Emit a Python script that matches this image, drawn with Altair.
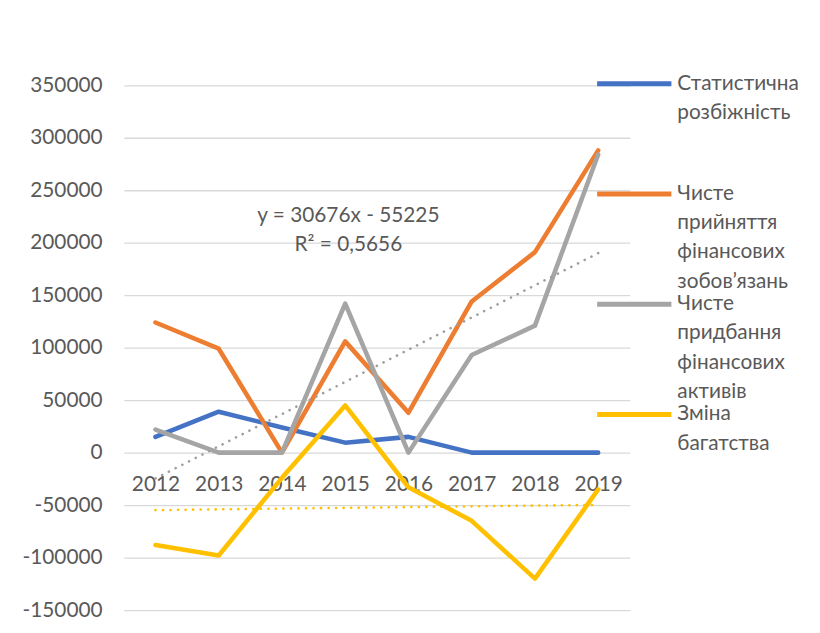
import json
import altair as alt
import pandas as pd

# ---- data ----
years = [2012, 2013, 2014, 2015, 2016, 2017, 2018, 2019]
series_names = [
    "Статистична розбіжність",
    "Чисте прийняття фінансових зобов’язань",
    "Чисте придбання фінансових активів",
    "Зміна багатства",
]
legend_lines = [
    ["Статистична", "розбіжність", "", ""],
    ["Чисте", "прийняття", "фінансових", "зобов’язань"],
    ["Чисте", "придбання", "фінансових", "активів"],
    ["Зміна", "багатства", "", ""],
]
stat_discrepancy = [15000, 39000, 24000, 9500, 15000, 0, 0, 0]
net_liabilities = [124000, 99000, 0, 106000, 38000, 144000, 191000, 288000]
net_assets = [22000, 0, 0, 142000, 0, 93000, 121000, 284000]
wealth_change = [-88000, -98000, -24000, 45000, -33000, -65000, -120000, -35000]
colors = ["#4472C4", "#ED7D31", "#A5A5A5", "#FFC000"]

y_ticks = [-150000, -100000, -50000, 0, 50000, 100000, 150000, 200000, 250000, 300000, 350000]
trend_label = "y = 30676x - 55225\nR² = 0,5656"
trend_label_pos = {"year": 2015.05, "value": 225500}

rows = []
for name, vals in zip(series_names, [stat_discrepancy, net_liabilities, net_assets, wealth_change]):
    for yr, v in zip(years, vals):
        rows.append({"year": yr, "value": v, "series": name})
df = pd.DataFrame(rows)

W, H = 511, 530
y_min, y_max = y_ticks[0], y_ticks[-1]
zero_offset = -H * (0 - y_min) / (y_max - y_min)

x_scale = alt.Scale(domain=[years[0] - 0.5, years[-1] + 0.5], nice=False, zero=False)
y_scale = alt.Scale(domain=[y_min, y_max], nice=False, zero=False)

x_axis = alt.Axis(
    values=years, labelExpr="'' + datum.value", title=None, grid=False, domain=False,
    ticks=False, tickSize=0, labelPadding=21, offset=zero_offset,
    labelFontSize=21, labelColor="#595959", labelFont="Lato",
)
y_axis = alt.Axis(
    values=y_ticks, labelExpr="'' + datum.value", title=None, domain=False, ticks=False,
    tickSize=0, labelPadding=22, labelFontSize=21, labelColor="#595959", labelFont="Lato",
    grid=True, gridColor="#D9D9D9", gridWidth=1.3,
)

expr = ""
for name, ls in zip(series_names, legend_lines):
    expr += f"datum.label == {json.dumps(name)} ? {json.dumps(ls, ensure_ascii=False)} : "
expr += "datum.label"

# legend key: a flat stroke drawn as a custom path (scaled by sqrt(size)/2)
sym_path = "M-7,0H7"
sym_size = (75 / 7) ** 2
legend = alt.Legend(
    orient="none", legendX=505, legendY=-12, title=None, direction="vertical",
    symbolType=sym_path, symbolSize=sym_size, symbolStrokeWidth=5,
    labelFontSize=21, labelFont="Lato", labelColor="#595959",
    labelLimit=400, labelExpr=expr, rowPadding=1.3, padding=0, labelOffset=33,
)
color = alt.Color("series:N", scale=alt.Scale(domain=series_names, range=colors), legend=legend)

base = alt.Chart(df)
layers = []
for name in series_names:
    layers.append(
        base.transform_filter(alt.datum.series == name)
        .mark_line(strokeWidth=4.6, strokeCap="round", strokeJoin="round")
        .encode(
            x=alt.X("year:Q", scale=x_scale, axis=x_axis),
            y=alt.Y("value:Q", scale=y_scale, axis=y_axis),
            color=color,
        )
    )

trend_gray = (
    base.transform_filter(alt.datum.series == series_names[2])
    .transform_regression("year", "value", extent=[years[0], years[-1]])
    .mark_line(strokeWidth=2.6, strokeDash=[0.1, 7.5], strokeCap="round", color="#9E9E9E")
    .encode(x=alt.X("year:Q", scale=x_scale), y=alt.Y("value:Q", scale=y_scale))
)
trend_yellow = (
    base.transform_filter(alt.datum.series == series_names[3])
    .transform_regression("year", "value", extent=[years[0], years[-1]])
    .mark_line(strokeWidth=2.6, strokeDash=[0.1, 7.5], strokeCap="round", color="#FFC000")
    .encode(x=alt.X("year:Q", scale=x_scale), y=alt.Y("value:Q", scale=y_scale))
)

annot = (
    alt.Chart(pd.DataFrame([{**trend_label_pos, "text": trend_label}]))
    .mark_text(lineBreak="\n", lineHeight=29, fontSize=21, font="Lato", color="#595959",
               align="center", baseline="middle")
    .encode(x=alt.X("year:Q", scale=x_scale), y=alt.Y("value:Q", scale=y_scale), text="text:N")
)

chart = (
    alt.layer(*layers, trend_gray, trend_yellow, annot)
    .properties(
        width=W, height=H,
        autosize=alt.AutoSizeParams(type="none"),
        padding={"left": 117, "top": 75, "right": 184, "bottom": 9},
    )
    .configure(font="Lato", style={"guide-label": {"lineHeight": 29.5}})
    .configure_view(stroke=None)
)

chart.save("out.html", embed_options={"renderer": "svg", "actions": False})
